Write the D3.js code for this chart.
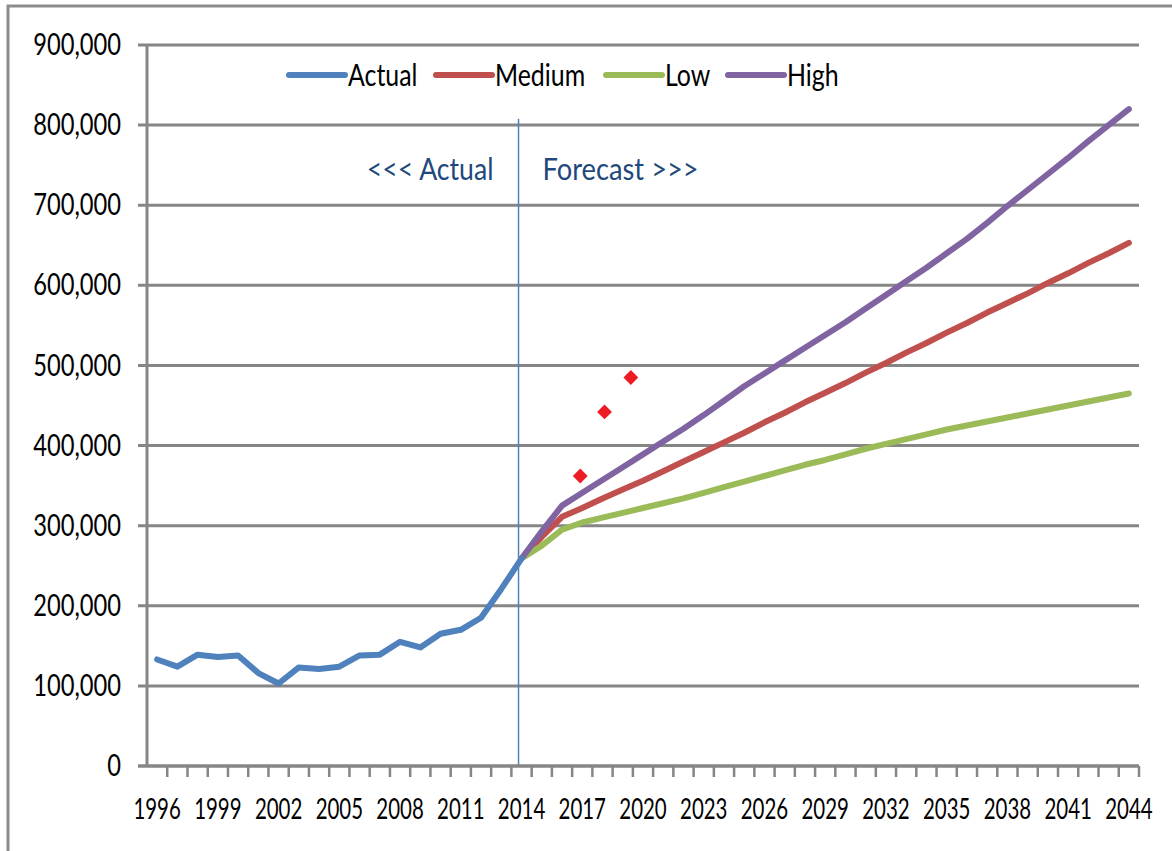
<!DOCTYPE html>
<html>
<head>
<meta charset="utf-8">
<script src="https://cdn.jsdelivr.net/npm/d3@7"></script>
<style>
  body { margin: 0; background: #fff; }
  text { font-family: Lato, "Open Sans", sans-serif; }
</style>
</head>
<body>
<div id="chart"></div>
<script>
// years on the category axis
const years = d3.range(1996, 2045);
const labelYears = years.filter((d, i) => i % 3 === 0);
const yTicks = [0, 100000, 200000, 300000, 400000, 500000, 600000, 700000, 800000, 900000];

// actual 1996 - 2014
const actualYears = d3.range(1996, 2015);
const actual = [133000, 124000, 139000, 136000, 138000, 116000, 103000, 123000, 121000, 124000,
  138000, 139000, 155000, 148000, 165000, 170000, 185000, 221000, 259000];

// forecasts 2014 - 2044
const forecastYears = d3.range(2014, 2045);
const medium = [259000, 286000, 311000, 322000, 334000, 345000, 356000, 368000, 380000, 392000,
  404000, 416000, 429000, 441000, 454000, 466000, 478000, 491000, 503000, 516000,
  528000, 541000, 553000, 566000, 578000, 590000, 603000, 615000, 628000, 640000, 653000];
const low = [259000, 275000, 295000, 304000, 310000, 316000, 322000, 328000, 334000, 341000,
  348000, 355000, 362000, 369000, 376000, 382000, 389000, 396000, 402000, 408000,
  414000, 420000, 425000, 430000, 435000, 440000, 445000, 450000, 455000, 460000, 465000];
const high = [259000, 293000, 325000, 341000, 357000, 373000, 389000, 405000, 421000, 438000,
  456000, 474000, 490000, 506000, 522000, 538000, 554000, 571000, 588000, 605000,
  622000, 640000, 658000, 678000, 699000, 719000, 739000, 759000, 780000, 800000, 820000];

// red markers
const markerYears = [2016.9, 2018.1, 2019.4];
const markerValues = [362000, 442000, 485000];

const forecastStart = 2014;
const markerLineTop = 808000;

const series = [
  { name: 'Actual', years: actualYears, values: actual, color: '#4F81BD' },
  { name: 'Medium', years: forecastYears, values: medium, color: '#C0504D' },
  { name: 'Low', years: forecastYears, values: low, color: '#9BBB59' },
  { name: 'High', years: forecastYears, values: high, color: '#8064A2' }
];

const W = 1172, H = 851;
const plotLeft = 147, plotRight = 1139, plotTop = 45, plotBottom = 766;
const grid = '#868686';

// the source font is narrow, so squash a regular one horizontally
function squeeze(sel, k) {
  sel.each(function () {
    const t = d3.select(this);
    const tx = +t.attr('x') || 0;
    const ty = +t.attr('y') || 0;
    t.attr('x', 0).attr('y', 0)
      .attr('transform', `translate(${tx},${ty}) scale(${k},1)`);
  });
}

const svg = d3.select('#chart').append('svg')
  .attr('width', W)
  .attr('height', H);

svg.append('rect')
  .attr('width', W).attr('height', H).attr('fill', '#fff');

// outer frame (only top/left visible in the crop)
svg.append('rect')
  .attr('x', 8).attr('y', 6)
  .attr('width', W + 20).attr('height', H + 20)
  .attr('fill', 'none')
  .attr('stroke', '#8c8c8c')
  .attr('stroke-width', 3);

const x = d3.scaleBand(years, [plotLeft, plotRight]);
const xc = d => x(d) + x.bandwidth() / 2;
const xLin = d3.scaleLinear([1996, 2044], [xc(1996), xc(2044)]);
const y = d3.scaleLinear([0, 900000], [plotBottom, plotTop]);

// gridlines
svg.append('g')
  .selectAll('line')
  .data(yTicks)
  .join('line')
  .attr('x1', plotLeft - 9).attr('x2', plotRight)
  .attr('y1', d => y(d)).attr('y2', d => y(d))
  .attr('stroke', grid)
  .attr('stroke-width', 3);

// y axis
const yAxis = d3.axisLeft(y)
  .tickValues(yTicks)
  .tickFormat(d3.format(','))
  .tickSize(0)
  .tickPadding(26);
const gy = svg.append('g')
  .attr('transform', `translate(${plotLeft},0)`)
  .call(yAxis);
gy.select('.domain').remove();
gy.selectAll('text')
  .attr('font-size', 30)
  .attr('fill', '#000')
  .style('font-family', 'Lato, sans-serif')
  .call(squeeze, 0.79);

svg.append('line')
  .attr('x1', plotLeft).attr('x2', plotLeft)
  .attr('y1', plotTop - 1).attr('y2', plotBottom + 1)
  .attr('stroke', grid).attr('stroke-width', 3);

// x tick marks at category edges
const edges = years.map(d => x(d)).concat([plotRight]);
svg.append('g')
  .selectAll('line')
  .data(edges.slice(1))
  .join('line')
  .attr('x1', d => d).attr('x2', d => d)
  .attr('y1', plotBottom).attr('y2', plotBottom + 11)
  .attr('stroke', grid)
  .attr('stroke-width', 2.5);

// x labels
const xAxis = d3.axisBottom(x)
  .tickValues(labelYears)
  .tickSize(0)
  .tickPadding(33);
const gx = svg.append('g')
  .attr('transform', `translate(0,${plotBottom})`)
  .call(xAxis);
gx.select('.domain').remove();
gx.selectAll('text')
  .attr('font-size', 28)
  .attr('fill', '#000')
  .style('font-family', 'Lato, sans-serif')
  .call(squeeze, 0.73);

// forecast divider
svg.append('line')
  .attr('x1', xc(forecastStart) - 3).attr('x2', xc(forecastStart) - 3)
  .attr('y1', y(markerLineTop)).attr('y2', plotBottom)
  .attr('stroke', '#4F81BD')
  .attr('stroke-width', 1.5);

svg.append('text')
  .attr('x', xc(forecastStart) - 28)
  .attr('y', y(markerLineTop) + 61)
  .attr('text-anchor', 'end')
  .attr('font-size', 31)
  .attr('fill', '#1F497D')
  .text('<<< Actual')
  .call(squeeze, 0.86);
svg.append('text')
  .attr('x', xc(forecastStart) + 21)
  .attr('y', y(markerLineTop) + 61)
  .attr('font-size', 31)
  .attr('fill', '#1F497D')
  .text('Forecast >>>')
  .call(squeeze, 0.88);

// x axis line
svg.append('line')
  .attr('x1', plotLeft - 9).attr('x2', plotRight)
  .attr('y1', plotBottom).attr('y2', plotBottom)
  .attr('stroke', grid).attr('stroke-width', 3);

// series lines
const line = d3.line()
  .x(d => xc(d[0]))
  .y(d => y(d[1]));

svg.append('g')
  .selectAll('path')
  .data(series.slice(1).concat(series.slice(0, 1)))
  .join('path')
  .attr('d', s => line(d3.zip(s.years, s.values)))
  .attr('fill', 'none')
  .attr('stroke', s => s.color)
  .attr('stroke-width', 6)
  .attr('stroke-linejoin', 'round')
  .attr('stroke-linecap', 'round');

// red diamonds
svg.append('g')
  .selectAll('path')
  .data(d3.zip(markerYears, markerValues))
  .join('path')
  .attr('d', d3.symbol(d3.symbolSquare, 110))
  .attr('transform', d => `translate(${xLin(d[0])},${y(d[1])}) rotate(45)`)
  .attr('fill', '#ED1C24');

// legend
const legendX = [289, 436, 606, 728];
const lg = svg.append('g')
  .selectAll('g')
  .data(series)
  .join('g')
  .attr('transform', (d, i) => `translate(${legendX[i]},75)`);
lg.append('line')
  .attr('x1', 0).attr('x2', 56)
  .attr('stroke', d => d.color)
  .attr('stroke-width', 6)
  .attr('stroke-linecap', 'round');
lg.append('text')
  .attr('x', 59)
  .attr('dy', '0.36em')
  .attr('font-size', 30)
  .attr('fill', '#000')
  .text(d => d.name)
  .call(squeeze, 0.83);
</script>
</body>
</html>
